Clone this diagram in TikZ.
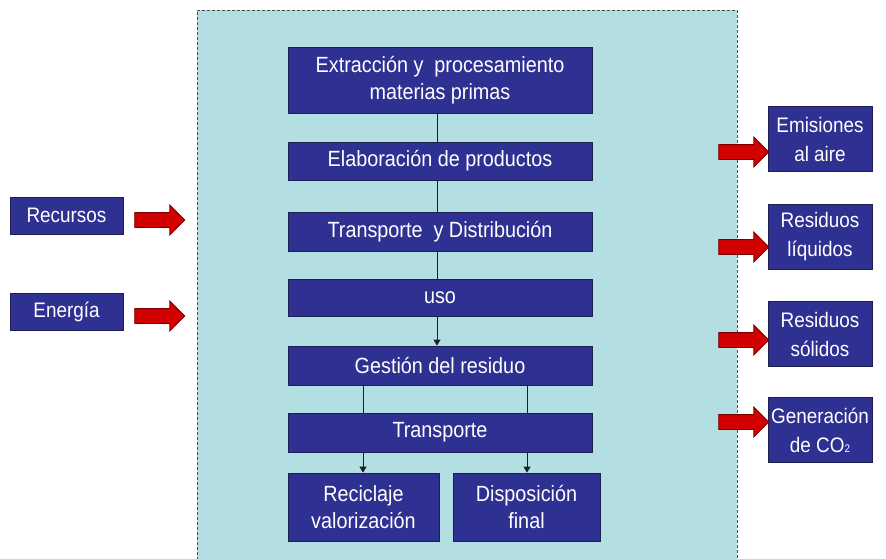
\documentclass[tikz,border=0pt]{standalone}
\usepackage{fontspec}
\setmainfont{Liberation Sans}[FakeStretch=0.9]
\usetikzlibrary{shapes.arrows,arrows.meta}
\definecolor{boxblue}{RGB}{46,48,146}
\definecolor{boxedge}{RGB}{30,30,80}
\definecolor{bgteal}{RGB}{180,223,226}
\definecolor{arrred}{RGB}{210,0,0}
\definecolor{arredge}{RGB}{120,0,0}
\definecolor{linecol}{RGB}{30,30,40}
\tikzset{
  bluebox/.style={draw=boxedge, line width=0.8pt, fill=boxblue, text=white,
    font=\fontsize{21}{29}\selectfont, align=center, inner sep=0pt},
  mainbox/.style={bluebox, minimum width=304pt, font=\fontsize{22}{27}\selectfont},
  redarrow/.style={shape=single arrow, draw=arredge, line width=0.8pt, fill=arrred,
    minimum height=50pt, single arrow head extend=7.5pt,
    single arrow tip angle=90, inner xsep=0pt, inner ysep=7pt},
  conn/.style={draw=linecol, line width=1pt},
  connarrow/.style={conn, -{Triangle[length=6pt,width=7pt]}}
}
\begin{document}
\begin{tikzpicture}[x=1pt,y=-1pt]
\useasboundingbox (0,0) rectangle (886,558);
% container
\fill[bgteal] (197,10) rectangle (737,575);
\draw[draw=black!70, line width=0.8pt, dash pattern=on 3pt off 2pt] (197,575) -- (197,10) -- (737,10) -- (737,575);
% main chain
\node[mainbox, minimum height=66pt] (b1) at (440,80) {Extracción y \ procesamiento\\materias primas};
\node[mainbox, minimum height=38pt] (b2) at (440,161) {Elaboración de productos};
\node[mainbox, minimum height=39pt] (b3) at (440,231.5) {Transporte \ y Distribución};
\node[mainbox, minimum height=37pt] (b4) at (440,297.5) {uso};
\node[mainbox, minimum height=39pt] (b5) at (440,365.5) {Gestión del residuo};
\node[mainbox, minimum height=39pt] (b6) at (440,432.5) {Transporte};
\node[mainbox, minimum width=151pt, minimum height=68pt] (b7) at (363.5,507) {Reciclaje\\valorización};
\node[mainbox, minimum width=147pt, minimum height=68pt] (b8) at (526.5,507) {Disposición\\final};
\coordinate (cx) at (437,0);
\coordinate (lx) at (363,0);
\coordinate (rx) at (527,0);
\draw[conn] (b1.south -| cx) -- (b2.north -| cx);
\draw[conn] (b2.south -| cx) -- (b3.north -| cx);
\draw[conn] (b3.south -| cx) -- (b4.north -| cx);
\draw[connarrow] (b4.south -| cx) -- (b5.north -| cx);
\draw[conn] (b5.south -| lx) -- (b6.north -| lx);
\draw[conn] (b5.south -| rx) -- (b6.north -| rx);
\draw[connarrow] (b6.south -| lx) -- (b7.north -| lx);
\draw[connarrow] (b6.south -| rx) -- (b8.north -| rx);
% inputs
\node[bluebox, minimum width=113pt, minimum height=37pt] (in1) at (66.5,215.5) {Recursos};
\node[bluebox, minimum width=113pt, minimum height=37pt] (in2) at (66.5,311.5) {Energía};
\node[redarrow] (a1) at (156,220) {};
\node[redarrow] (a2) at (156,316) {};
% outputs
\node[bluebox, minimum width=104pt, minimum height=65pt] (o1) at (820,139) {Emisiones\\al aire};
\node[bluebox, minimum width=104pt, minimum height=65pt] (o2) at (820,237) {Residuos\\líquidos};
\node[bluebox, minimum width=104pt, minimum height=65pt] (o3) at (820,334) {Residuos\\sólidos};
\node[bluebox, minimum width=104pt, minimum height=65pt] (o4) at (820,430) {Generación\\de CO{\fontsize{11}{11}\selectfont 2}};
\node[redarrow] (r1) at (740,152) {};
\node[redarrow] (r2) at (740,247) {};
\node[redarrow] (r3) at (740,340) {};
\node[redarrow] (r4) at (740,422) {};
\end{tikzpicture}
\end{document}
